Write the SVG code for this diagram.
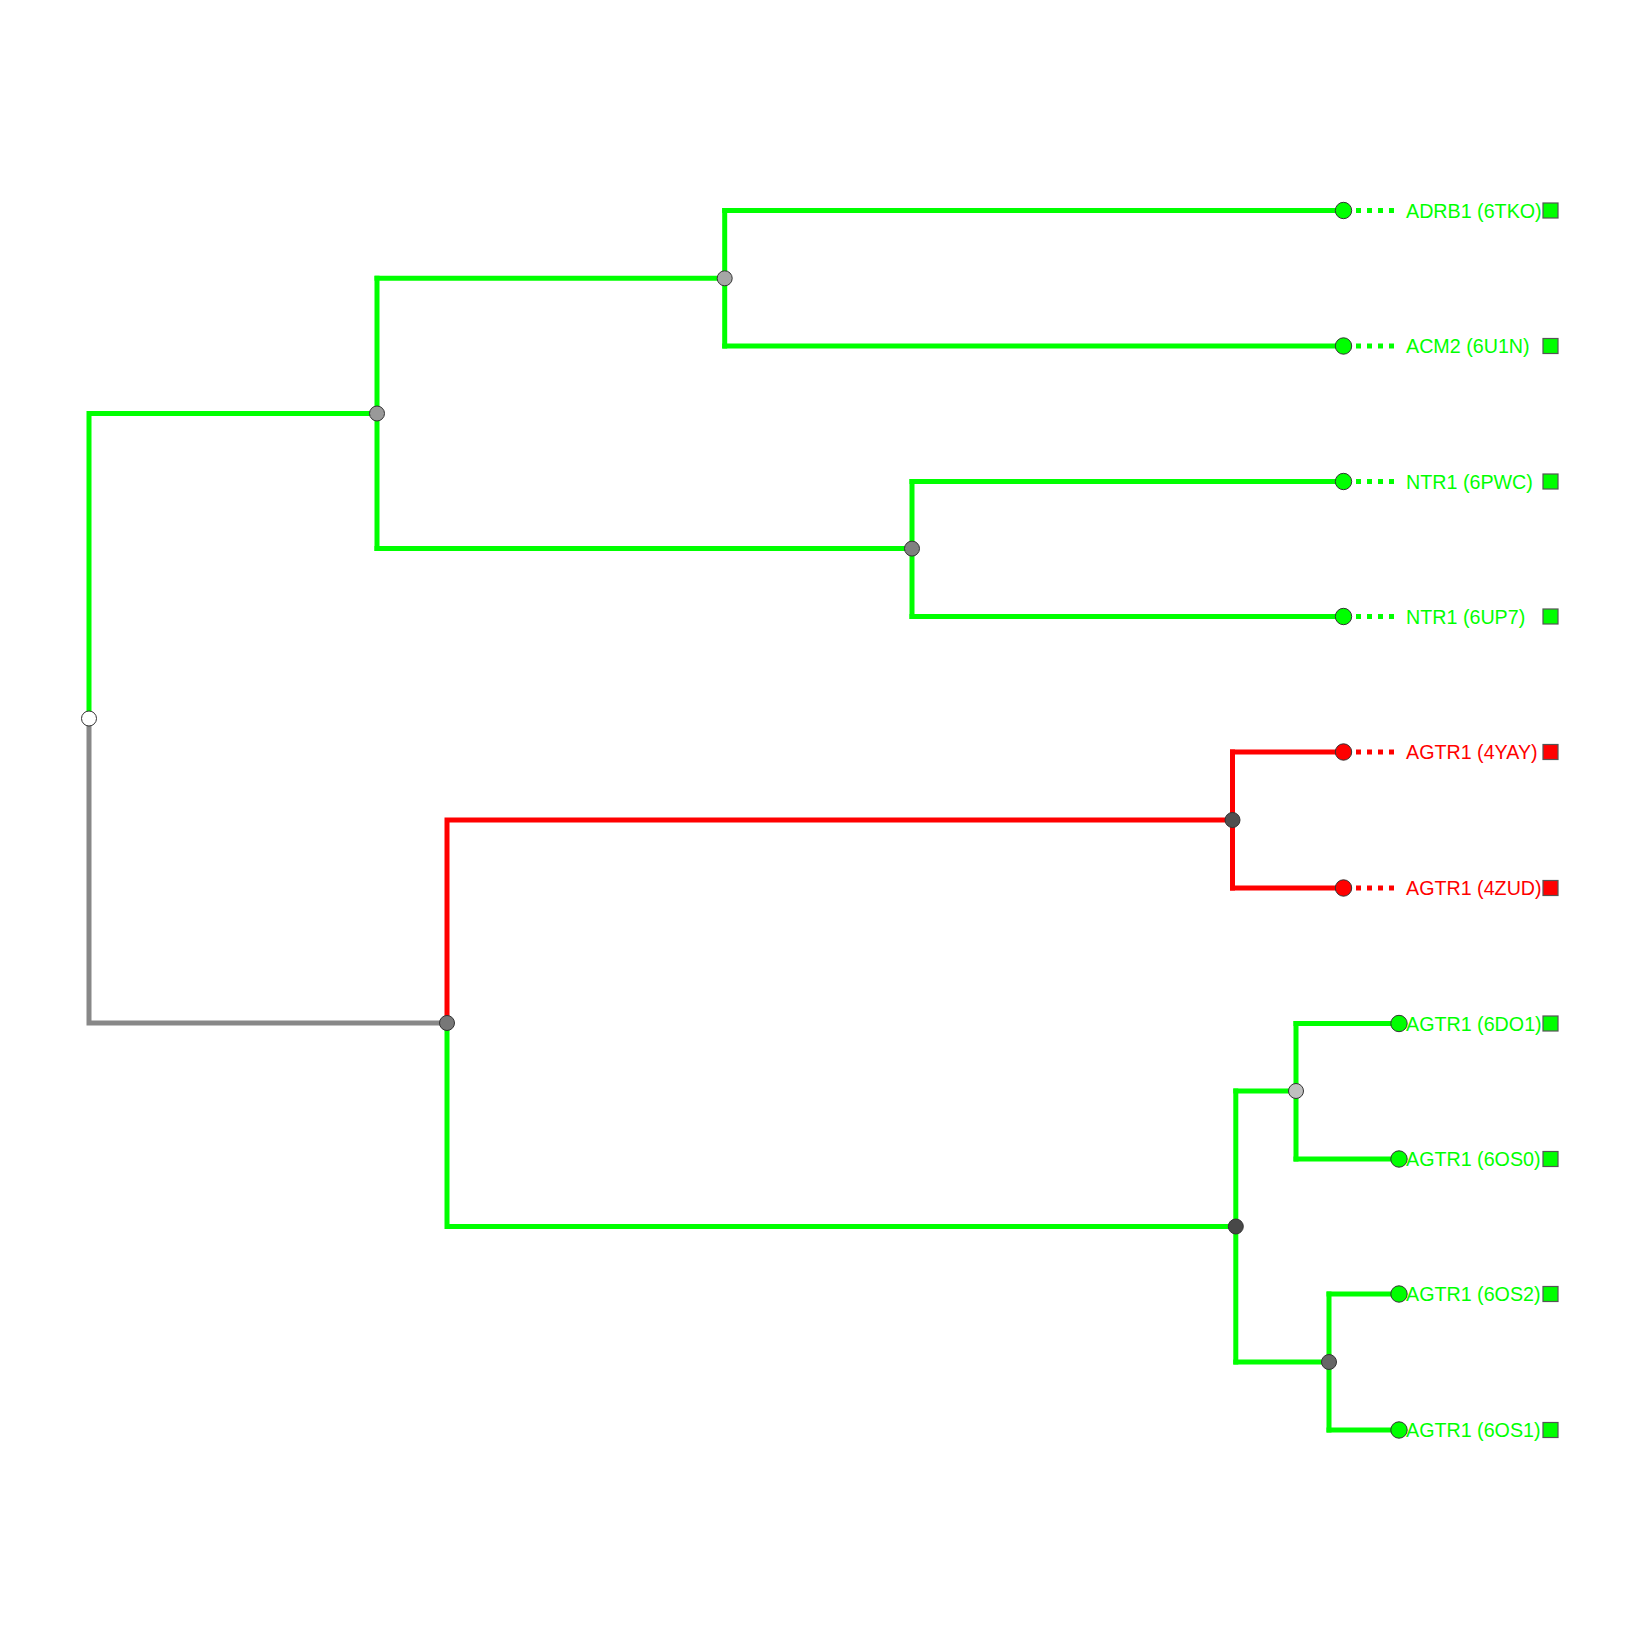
<svg xmlns="http://www.w3.org/2000/svg" width="1638" height="1638" viewBox="0 0 1638 1638">
<style>
.e{fill:none;stroke-width:5;stroke-linecap:square;stroke-linejoin:miter}
.g{stroke:#00ff00}.r{stroke:#ff0000}.k{stroke:#888888}
.d{fill:none;stroke-width:5;stroke-dasharray:5,6}
.n{stroke:#333;stroke-width:1}
.sq{stroke:#555;stroke-width:1.2}
.t{font-family:"Liberation Sans",Arial,sans-serif;font-size:19.7px}
</style>
<rect width="1638" height="1638" fill="#fff"/>
<g id="connectors">
<path class="e k" d="M89,718.5 V1023 H447"/>
<path class="e g" d="M89,718.5 V413.5 H377"/>
<path class="e g" d="M377,278.3 V548.6"/>
<path class="e g" d="M377,278.3 H724.7"/>
<path class="e g" d="M724.7,210.5 V346"/>
<path class="e g" d="M724.7,210.5 H1343.5 M724.7,346 H1343.5"/>
<path class="e g" d="M377,548.6 H912"/>
<path class="e g" d="M912,481.5 V616.5"/>
<path class="e g" d="M912,481.5 H1343.5 M912,616.5 H1343.5"/>
<path class="e r" d="M447,1023 V820 H1232.5"/>
<path class="e r" d="M1232.5,752 V888"/>
<path class="e r" d="M1232.5,752 H1343.5 M1232.5,888 H1343.5"/>
<path class="e g" d="M447,1023 V1226.5 H1235.8"/>
<path class="e g" d="M1235.8,1091 V1362"/>
<path class="e g" d="M1235.8,1091 H1296 M1235.8,1362 H1329"/>
<path class="e g" d="M1296,1023.5 V1159"/>
<path class="e g" d="M1296,1023.5 H1399 M1296,1159 H1399"/>
<path class="e g" d="M1329,1294 V1430"/>
<path class="e g" d="M1329,1294 H1399 M1329,1430 H1399"/>
<path class="d g" d="M1356,210.5 H1396 M1356,346 H1396 M1356,481.5 H1396 M1356,616.5 H1396"/>
<path class="d r" d="M1356,752 H1396 M1356,888 H1396"/>
</g>
<g id="root"><circle class="n" cx="89" cy="718.5" r="7.5" fill="#ffffff"/></g>
<g id="n1"><circle class="n" cx="377" cy="413.5" r="7.5" fill="#999999"/></g>
<g id="n2"><circle class="n" cx="724.7" cy="278.3" r="7.5" fill="#a6a6a6"/></g>
<g id="n3"><circle class="n" cx="912" cy="548.6" r="7.5" fill="#808080"/></g>
<g id="n4"><circle class="n" cx="447" cy="1023" r="7.5" fill="#777777"/></g>
<g id="n5"><circle class="n" cx="1232.5" cy="820" r="7.5" fill="#505050"/></g>
<g id="n6"><circle class="n" cx="1235.8" cy="1226.5" r="7.5" fill="#484848"/></g>
<g id="n7"><circle class="n" cx="1296" cy="1091" r="7.5" fill="#c0c0c0"/></g>
<g id="n8"><circle class="n" cx="1329" cy="1362" r="7.5" fill="#666666"/></g>
<g id="leaf-adrb1"><circle class="n" cx="1343.5" cy="210.5" r="8.2" fill="#00ff00"/><text class="t" x="1406" y="217.5" fill="#00ff00">ADRB1 (6TKO)</text><rect class="sq" x="1543" y="203" width="15" height="15" fill="#00ff00"/></g>
<g id="leaf-acm2"><circle class="n" cx="1343.5" cy="346" r="8.2" fill="#00ff00"/><text class="t" x="1406" y="353" fill="#00ff00">ACM2 (6U1N)</text><rect class="sq" x="1543" y="338.5" width="15" height="15" fill="#00ff00"/></g>
<g id="leaf-ntr1a"><circle class="n" cx="1343.5" cy="481.5" r="8.2" fill="#00ff00"/><text class="t" x="1406" y="488.5" fill="#00ff00">NTR1 (6PWC)</text><rect class="sq" x="1543" y="474" width="15" height="15" fill="#00ff00"/></g>
<g id="leaf-ntr1b"><circle class="n" cx="1343.5" cy="616.5" r="8.2" fill="#00ff00"/><text class="t" x="1406" y="623.5" fill="#00ff00">NTR1 (6UP7)</text><rect class="sq" x="1543" y="609" width="15" height="15" fill="#00ff00"/></g>
<g id="leaf-4yay"><circle class="n" cx="1343.5" cy="752" r="8.2" fill="#ff0000"/><text class="t" x="1406" y="759" fill="#ff0000">AGTR1 (4YAY)</text><rect class="sq" x="1543" y="744.5" width="15" height="15" fill="#ff0000"/></g>
<g id="leaf-4zud"><circle class="n" cx="1343.5" cy="888" r="8.2" fill="#ff0000"/><text class="t" x="1406" y="895" fill="#ff0000">AGTR1 (4ZUD)</text><rect class="sq" x="1543" y="880.5" width="15" height="15" fill="#ff0000"/></g>
<g id="leaf-6do1"><circle class="n" cx="1399" cy="1023.5" r="8.2" fill="#00ff00"/><text class="t" x="1406" y="1030.5" fill="#00ff00">AGTR1 (6DO1)</text><rect class="sq" x="1543" y="1016" width="15" height="15" fill="#00ff00"/></g>
<g id="leaf-6os0"><circle class="n" cx="1399" cy="1159" r="8.2" fill="#00ff00"/><text class="t" x="1406" y="1166" fill="#00ff00">AGTR1 (6OS0)</text><rect class="sq" x="1543" y="1151.5" width="15" height="15" fill="#00ff00"/></g>
<g id="leaf-6os2"><circle class="n" cx="1399" cy="1294" r="8.2" fill="#00ff00"/><text class="t" x="1406" y="1301" fill="#00ff00">AGTR1 (6OS2)</text><rect class="sq" x="1543" y="1286.5" width="15" height="15" fill="#00ff00"/></g>
<g id="leaf-6os1"><circle class="n" cx="1399" cy="1430" r="8.2" fill="#00ff00"/><text class="t" x="1406" y="1437" fill="#00ff00">AGTR1 (6OS1)</text><rect class="sq" x="1543" y="1422.5" width="15" height="15" fill="#00ff00"/></g>
</svg>
